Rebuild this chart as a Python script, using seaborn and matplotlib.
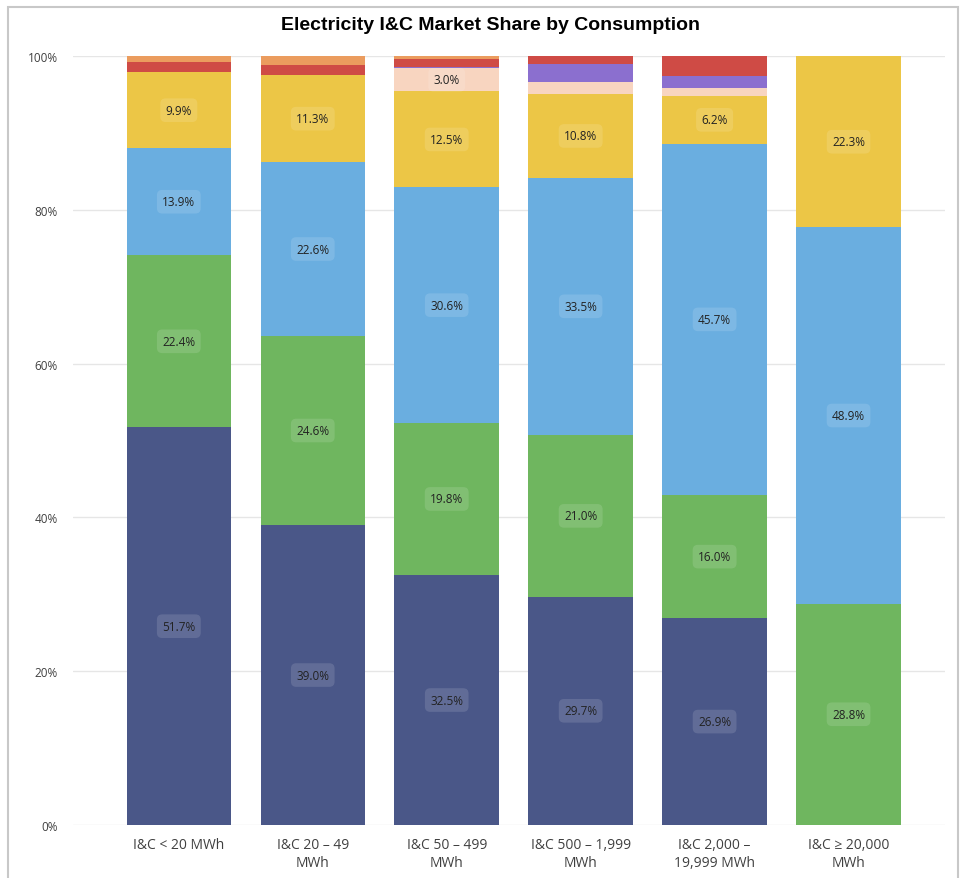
import numpy as np
import matplotlib
matplotlib.use("Agg")
import matplotlib.pyplot as plt
import seaborn as sns
from matplotlib.patches import Rectangle

categories = ["I&C < 20 MWh", "I&C 20 – 49\nMWh", "I&C 50 – 499\nMWh",
              "I&C 500 – 1,999\nMWh", "I&C 2,000 –\n19,999 MWh", "I&C ≥ 20,000\nMWh"]

# segments from bottom to top (share of consumption, %)
seg_navy = [51.7, 39.0, 32.5, 29.7, 26.9, 0.0]
seg_green = [22.4, 24.6, 19.8, 21.0, 16.0, 28.8]
seg_blue = [13.9, 22.6, 30.6, 33.5, 45.7, 48.9]
seg_yellow = [9.9, 11.3, 12.5, 10.8, 6.2, 22.3]
seg_peach = [0.0, 0.0, 3.0, 1.6, 1.1, 0.0]
seg_purple = [0.0, 0.0, 0.2, 2.3, 1.5, 0.0]
seg_red = [1.3, 1.3, 1.0, 1.1, 2.6, 0.0]
seg_orange = [0.8, 1.2, 0.4, 0.0, 0.0, 0.0]

segments = [seg_navy, seg_green, seg_blue, seg_yellow, seg_peach, seg_purple, seg_red, seg_orange]
colors = ["#4a5788", "#6fb65f", "#6aaee0", "#ecc646", "#f8d5c0", "#8b6fcf", "#cf4b45", "#eb9c5e"]

sns.set_style("white")
plt.rcParams['font.family'] = ['Open Sans', 'DejaVu Sans']

fig = plt.figure(figsize=(9.66, 8.79), dpi=100)
ax = fig.add_axes([73 / 966, 1 - 826 / 879, (945 - 73) / 966, (826 - 57) / 879])

vals = np.array(segments)
cum = np.cumsum(vals, axis=0)

# stacked bars: draw cumulative totals from the top down
for k in range(len(segments) - 1, -1, -1):
    sns.barplot(x=categories, y=cum[k], order=categories, color=colors[k],
                saturation=1, width=0.78, errorbar=None, linewidth=0, ax=ax)

# value labels
for k, seg in enumerate(segments):
    for i, v in enumerate(seg):
        if v >= 3.0:
            bottom = cum[k][i] - v
            ax.text(i, bottom + v / 2, f"{v:.1f}%", ha="center", va="center",
                    fontsize=8.5, color="#222222",
                    bbox=dict(boxstyle="round,pad=0.45", fc="white", alpha=0.13, ec="none"))

ax.set_ylim(0, 100)
ax.set_xlim(-0.79, 5.72)
ax.set_yticks(range(0, 101, 20))
ax.set_yticklabels([f"{t}%" for t in range(0, 101, 20)])
ax.yaxis.grid(True, color="#e6e6e6", linewidth=1)
ax.set_axisbelow(True)
ax.tick_params(axis="y", length=0, pad=11, labelsize=8.5, labelcolor="#404040")
ax.tick_params(axis="x", length=0, pad=9, labelsize=10, labelcolor="#404040")
for s in ax.spines.values():
    s.set_visible(False)
ax.set_xlabel("")
ax.set_ylabel("")

fig.text(490 / 966, 1 - 25 / 879, "Electricity I&C Market Share by Consumption",
         ha="center", va="center", fontsize=14, fontweight="bold",
         family="Liberation Sans", color="black")

fig.patches.append(Rectangle((8 / 966, -0.02), 950 / 966, 1 - 8 / 879 + 0.02,
                             transform=fig.transFigure, fill=False,
                             ec="#c8c8c8", lw=1.5))

fig.savefig("out.png", dpi=100)
